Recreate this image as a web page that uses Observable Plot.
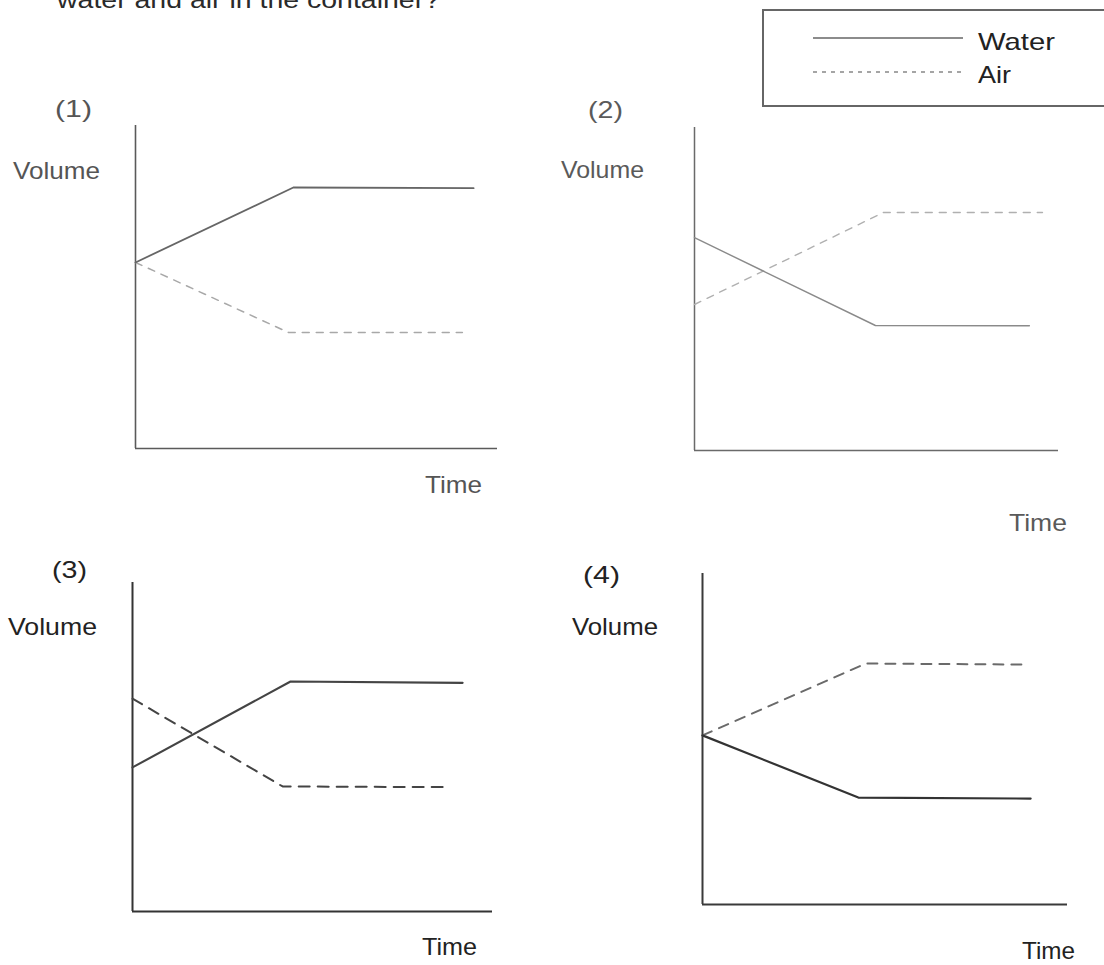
<!DOCTYPE html>
<html><head><meta charset="utf-8">
<script src="https://cdn.jsdelivr.net/npm/d3@7"></script>
<script src="https://cdn.jsdelivr.net/npm/@observablehq/plot@0.6"></script>
<style>
html,body{margin:0;padding:0;background:#fff;}
#page{position:relative;width:1104px;height:965px;overflow:hidden;font-family:"Liberation Sans",Arial,sans-serif;}
#page svg{position:absolute;background:transparent;}
</style></head><body><div id="page"></div>
<script>
// ---- data ----
const panels = ["(1)", "(2)", "(3)", "(4)"];
const seriesNames = ["Water", "Air"];
const xLabel = "Time";
const yLabel = "Volume";
const question = "water and air in the container?";
const waterTime   = [[0, 4.36, 9.34], [0, 4.97, 9.20], [0, 4.39, 9.17], [0, 4.27, 8.99]];
const waterVolume = [[5.76, 8.08, 8.06], [6.59, 3.87, 3.86], [4.38, 6.99, 6.95], [5.11, 3.23, 3.20]];
const airTime     = [[0, 4.23, 9.03], [0, 5.19, 9.56], [0, 4.17, 8.83], [0, 4.47, 8.85]];
const airVolume   = [[5.76, 3.59, 3.59], [4.52, 7.37, 7.37], [6.47, 3.80, 3.78], [5.11, 7.28, 7.25]];

// ---- layout (page pixels) ----
const frames = [[135, 497, 125, 448], [694, 1058, 127, 450], [132, 492, 582, 911], [702, 1067, 573, 904]];
const styles = [
  {axis: "#5a5a5a", axisW: 1.6, water: "#666", waterW: 1.8, air: "#a8a8a8", airW: 1.5, dash: "7,7", text: "#555"},
  {axis: "#6a6a6a", axisW: 1.5, water: "#8a8a8a", waterW: 1.4, air: "#b0b0b0", airW: 1.4, dash: "7,7", text: "#5a5a5a"},
  {axis: "#333", axisW: 2, water: "#444", waterW: 2.1, air: "#444", airW: 2, dash: "11,8", text: "#222"},
  {axis: "#3a3a3a", axisW: 2, water: "#333", waterW: 2.2, air: "#6a6a6a", airW: 2, dash: "10,8", text: "#222"}
];
// [x, baseline, textLength]
const tagPos  = [[55, 117, 37], [588, 118, 35], [52, 578, 35], [583, 583, 37]];
const volPos  = [[13, 179, 87], [561, 178, 83], [8, 635, 89], [572, 635, 86]];
const timePos = [[425, 493, 57], [1009, 531, 58], [422, 955, 55], [1022, 959, 53]];

const page = document.getElementById("page");
const pad = 20;

panels.forEach((p, i) => {
  const [x0, x1, y0, y1] = frames[i];
  const s = styles[i];
  const water = waterTime[i].map((t, j) => ({t, v: waterVolume[i][j]}));
  const air = airTime[i].map((t, j) => ({t, v: airVolume[i][j]}));
  const chart = Plot.plot({
    width: x1 - x0 + 2 * pad,
    height: y1 - y0 + 2 * pad,
    marginLeft: pad, marginRight: pad, marginTop: pad, marginBottom: pad,
    style: {background: "transparent", overflow: "visible"},
    x: {domain: [0, 10], axis: null},
    y: {domain: [0, 10], axis: null},
    marks: [
      Plot.ruleX([0], {stroke: s.axis, strokeWidth: s.axisW}),
      Plot.ruleY([0], {stroke: s.axis, strokeWidth: s.axisW}),
      Plot.line(air, {x: "t", y: "v", stroke: s.air, strokeWidth: s.airW, strokeDasharray: s.dash}),
      Plot.line(water, {x: "t", y: "v", stroke: s.water, strokeWidth: s.waterW})
    ]
  });
  chart.style.left = (x0 - pad) + "px";
  chart.style.top = (y0 - pad) + "px";
  page.appendChild(chart);
});

// ---- overlay text and legend ----
const svg = d3.select(page).append("svg")
  .attr("width", 1104).attr("height", 965)
  .style("left", "0px").style("top", "0px")
  .style("pointer-events", "none")
  .attr("font-family", "'Liberation Sans', Arial, sans-serif");

function label(txt, pos, color, size) {
  svg.append("text")
    .attr("x", pos[0]).attr("y", pos[1])
    .attr("textLength", pos[2]).attr("lengthAdjust", "spacingAndGlyphs")
    .attr("font-size", size).attr("fill", color)
    .text(txt);
}

label(question, [57, 8, 383], "#2a2a2a", 24);

panels.forEach((p, i) => {
  const c = styles[i].text;
  label(p, tagPos[i], c, 24);
  label(yLabel, volPos[i], c, 24);
  label(xLabel, timePos[i], c, 24);
});

// legend
svg.append("rect").attr("x", 763).attr("y", 10).attr("width", 400).attr("height", 96)
  .attr("fill", "none").attr("stroke", "#666").attr("stroke-width", 2);
svg.append("line").attr("x1", 813).attr("x2", 963).attr("y1", 38).attr("y2", 38)
  .attr("stroke", "#666").attr("stroke-width", 1.6);
svg.append("line").attr("x1", 813).attr("x2", 963).attr("y1", 72).attr("y2", 72)
  .attr("stroke", "#888").attr("stroke-width", 1.4).attr("stroke-dasharray", "4,5");
label(seriesNames[0], [978, 50, 77], "#222", 24);
label(seriesNames[1], [978, 83, 33], "#222", 24);
</script>
</body></html>
